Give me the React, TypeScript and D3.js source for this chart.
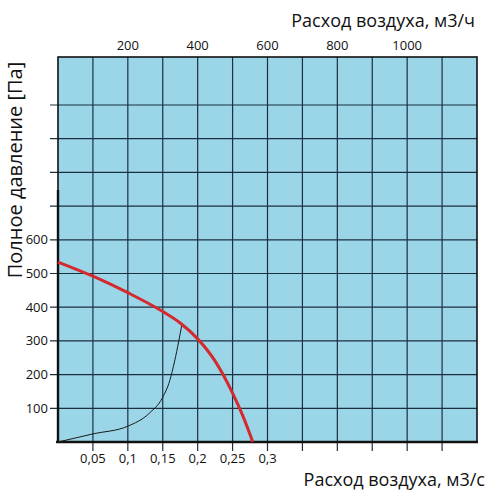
import React from 'react';
import * as d3 from 'd3';

// m3/s along the bottom, m3/h along the top, Pa on the left
const bottomTicks = [0.05, 0.1, 0.15, 0.2, 0.25, 0.3];
const topTicks = [200, 400, 600, 800, 1000];
const leftLabelTicks = [100, 200, 300, 400, 500, 600];
const gridFlow = [0.05, 0.1, 0.15, 0.2, 0.25, 0.3, 0.35, 0.4, 0.45, 0.5, 0.55];
const gridPressure = [100, 200, 300, 400, 500, 600, 700, 800, 900, 1000];

// fan curve (red)
const fanFlow = [0, 0.05, 0.1, 0.15, 0.175, 0.2, 0.225, 0.25, 0.265, 0.279];
const fanPressure = [534, 492, 443, 387, 353, 306, 240, 145, 76, 0];

// thin black curve
const sysFlow = [0, 0.05, 0.1, 0.13, 0.15, 0.16, 0.167, 0.173, 0.177];
const sysPressure = [0, 24, 47, 84, 133, 182, 240, 300, 344];

const W = 500;
const H = 500;
const left = 58;
const right = 477;
const top = 57;
const bottom = 442;

const App: React.FC = () => {
  const x = d3.scaleLinear().domain([0, 0.6]).range([left, right]);
  const xTop = d3.scaleLinear().domain([0, 1200]).range([left, right]);
  const y = d3.scaleLinear().domain([0, 1000]).range([bottom, 105]);

  const line = d3
    .line<[number, number]>()
    .x(d => x(d[0]))
    .y(d => y(d[1]))
    .curve(d3.curveMonotoneX);

  const fan = fanFlow.map((f, i) => [f, fanPressure[i]] as [number, number]);
  const sys = sysFlow.map((f, i) => [f, sysPressure[i]] as [number, number]);

  const font = "'Open Sans', 'DejaVu Sans', sans-serif";
  const gridColor = '#1b2f40';
  const fmt = (v: number) => String(v).replace('.', ',');

  return (
    <svg
      width={W}
      height={H}
      style={{ position: 'absolute', left: 0, top: 0, background: '#fff' }}
      fontFamily={font}
    >
      <rect x={left} y={top} width={right - left} height={bottom - top} fill="#9bd6e8" />

      {/* vertical grid with stubs below */}
      {gridFlow.map(v => (
        <line key={'v' + v} x1={x(v)} x2={x(v)} y1={top} y2={bottom + 9} stroke={gridColor} strokeWidth={1.2} />
      ))}

      {/* horizontal grid with ticks on the left */}
      {gridPressure.map(v => (
        <line key={'h' + v} x1={left - 8} x2={right} y1={y(v)} y2={y(v)} stroke={gridColor} strokeWidth={1.2} />
      ))}

      {/* frame */}
      <rect x={left} y={top} width={right - left} height={bottom - top} fill="none" stroke="#111" strokeWidth={1.6} />
      <line x1={left - 2} x2={right + 1} y1={bottom} y2={bottom} stroke="#111" strokeWidth={2.6} />
      <line x1={left} x2={left} y1={190} y2={bottom} stroke="#111" strokeWidth={2.4} />

      {/* curves */}
      <path d={line(sys) || ''} fill="none" stroke="#1a1a1a" strokeWidth={1} />
      <path d={line(fan) || ''} fill="none" stroke="#d42a2e" strokeWidth={3} />

      {/* left tick labels */}
      {leftLabelTicks.map(v => (
        <text key={'l' + v} x={left - 10} y={y(v)} dy="0.35em" textAnchor="end" fontSize={13} fill="#111">
          {v}
        </text>
      ))}

      {/* bottom tick labels */}
      {bottomTicks.map(v => (
        <text key={'b' + v} x={x(v)} y={463} textAnchor="middle" fontSize={13} fill="#111">
          {fmt(v)}
        </text>
      ))}

      {/* top tick labels */}
      {topTicks.map(v => (
        <text key={'t' + v} x={xTop(v)} y={50} textAnchor="middle" fontSize={13} fill="#111">
          {v}
        </text>
      ))}

      {/* titles */}
      <text x={475} y={27} textAnchor="end" fontSize={18} fill="#111">
        Расход воздуха, м3/ч
      </text>
      <text x={485} y={486} textAnchor="end" fontSize={18} fill="#111">
        Расход воздуха, м3/с
      </text>
      <text
        transform={`translate(15, 170) rotate(-90)`}
        textAnchor="middle"
        dy="0.35em"
        fontSize={20}
        fill="#111"
      >
        Полное давление [Па]
      </text>
    </svg>
  );
};

export default App;
